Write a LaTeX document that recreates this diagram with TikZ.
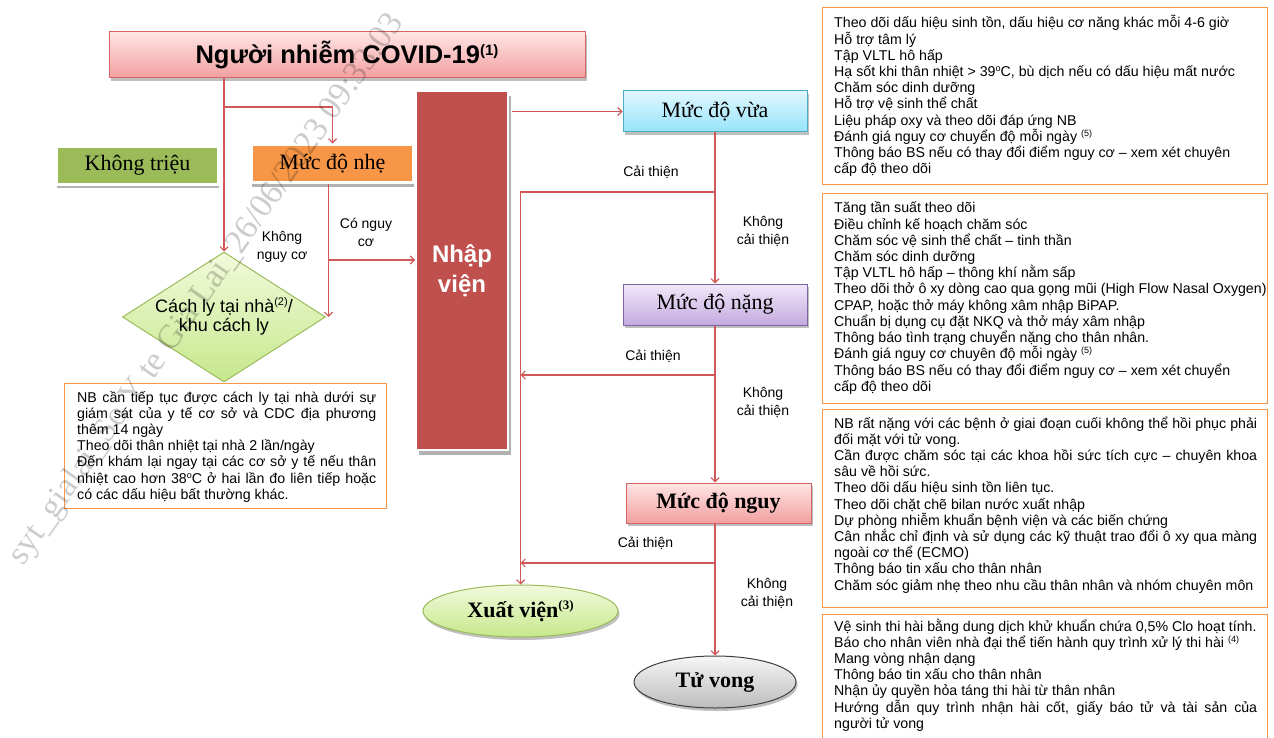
\documentclass[tikz,border=0pt]{standalone}
\usepackage{fontspec}
\setmainfont{Liberation Sans}
\newfontfamily\seriffont{Liberation Serif}
\usetikzlibrary{shapes.geometric,arrows.meta,shadows}

\definecolor{linkred}{RGB}{208,88,88}
\definecolor{boxorange}{RGB}{247,150,70}
\definecolor{pinktop}{RGB}{255,228,228}
\definecolor{pinkbot}{RGB}{243,160,160}
\definecolor{pinkedge}{RGB}{214,100,100}
\definecolor{leafgreen}{RGB}{155,187,89}
\definecolor{limetop}{RGB}{242,250,220}
\definecolor{limebot}{RGB}{198,232,140}
\definecolor{cyantop}{RGB}{225,247,255}
\definecolor{cyanbot}{RGB}{150,228,250}
\definecolor{cyanedge}{RGB}{75,172,198}
\definecolor{violettop}{RGB}{240,232,250}
\definecolor{violetbot}{RGB}{196,170,222}
\definecolor{violetedge}{RGB}{128,100,162}
\definecolor{greytop}{RGB}{246,246,246}
\definecolor{greybot}{RGB}{188,188,188}
\definecolor{brick}{RGB}{192,80,77}

% small raised text: raise, size, content
\newcommand{\supx}[3]{\raisebox{#1}{\fontsize{#2}{#2}\selectfont #3}}
% a block of stacked lines of a given width
\newcommand{\txtblock}[2]{\vtop{\hsize=#1\relax #2}}
\newcommand{\fl}[1]{\hbox to \hsize{#1}}
\newcommand{\pl}[1]{\hbox{#1}}

\tikzset{
  link/.style={draw=linkred, line width=1.1pt, -{Straight Barb[length=4pt,width=8pt]}},
  linkplain/.style={draw=linkred, line width=1.1pt},
  lbl/.style={font=\fontsize{14}{18}\selectfont, align=center, inner sep=0pt},
  infobox/.style={draw=boxorange, line width=1pt, fill=white, inner sep=0pt},
  infotext/.style={font=\fontsize{14.2}{16.2}\selectfont, inner sep=0pt, anchor=base west},
  softshadow/.style={drop shadow={shadow xshift=1.5pt, shadow yshift=-3pt, fill=black, opacity=0.25}},
  tagbox/.style={draw=white, line width=3pt, minimum width=162pt, minimum height=38pt, inner sep=0pt,
    font=\seriffont\fontsize{22}{26}\selectfont,
    drop shadow={shadow xshift=0pt, shadow yshift=-4pt, fill=black, opacity=0.3}},
  levelbox/.style={line width=1pt, minimum width=184pt, minimum height=41pt, inner sep=0pt,
    font=\seriffont\fontsize{22}{26}\selectfont, softshadow},
  outcome/.style={ellipse, line width=1pt, minimum height=52pt, inner sep=0pt, softshadow,
    font=\seriffont\bfseries\fontsize{22}{26}\selectfont},
}

\begin{document}
\begin{tikzpicture}[x=1pt,y=-1pt]
\clip (0,0) rectangle (1274,738);
\fill[white] (0,0) rectangle (1274,738);

% ---------- entry and triage ----------
\node[draw=pinkedge, line width=1pt, top color=pinktop, bottom color=pinkbot,
      minimum width=476pt, minimum height=46pt, inner sep=0pt, softshadow,
      font=\fontsize{25.5}{29}\selectfont\bfseries] (title) at (347,55)
      {Người nhiễm COVID-19\supx{8pt}{15}{(1)}};

\node[tagbox, fill=leafgreen] (asym) at (137.5,165.5) {Không triệu};
\node[tagbox, fill=boxorange] (mild) at (332.5,164) {Mức độ nhẹ};

\node[draw=white, line width=2pt, fill=brick, minimum width=92pt, minimum height=359pt,
      text=white, font=\fontsize{24}{30}\selectfont\bfseries, align=center,
      drop shadow={shadow xshift=3pt, shadow yshift=-5pt, fill=black, opacity=0.3}]
      (adm) at (462,270.5) {Nhập\\viện};

\node[diamond, draw=leafgreen, line width=1pt, top color=limetop, bottom color=limebot,
      minimum width=203pt, minimum height=130pt, inner sep=0pt] (home) at (224,317) {};
\node[font=\fontsize{18}{19}\selectfont, align=center, inner sep=0pt] (hometitle) at (224,316)
      {Cách ly tại nhà\supx{7pt}{11}{(2)}/\\khu cách ly};

\node[infobox, minimum width=322pt, minimum height=125pt] (homebox) at (225,445.5) {};
\node[infotext] (hometext) at (77,402) {\txtblock{299pt}{%
  \fl{NB cần tiếp tục được cách ly tại nhà dưới sự}
  \fl{giám sát của y tế cơ sở và CDC địa phương}
  \pl{thêm 14 ngày}
  \pl{Theo dõi thân nhiệt tại nhà 2 lần/ngày}
  \fl{Đến khám lại ngay tại các cơ sở y tế nếu thân}
  \fl{nhiệt cao hơn 38\supx{5pt}{9}{o}C ở hai lần đo liên tiếp hoặc}
  \pl{có các dấu hiệu bất thường khác.}}};

% ---------- hospital levels ----------
\node[levelbox, top color=cyantop, bottom color=cyanbot, draw=cyanedge] (mod) at (715,111.5) {Mức độ vừa};
\node[levelbox, top color=violettop, bottom color=violetbot, draw=violetedge] (sev) at (715,304.5) {Mức độ nặng};
\node[levelbox, minimum width=185pt, minimum height=40pt, top color=pinktop, bottom color=pinkbot,
      draw=pinkedge, font=\seriffont\bfseries\fontsize{22}{26}\selectfont] (crit) at (718.5,503) {Mức độ nguy};

\node[outcome, draw=leafgreen, top color=limetop, bottom color=limebot, minimum width=195pt]
      (disc) at (520.5,611) {Xuất viện\supx{8pt}{13}{(3)}};
\node[outcome, draw=black!75, top color=greytop, bottom color=greybot, minimum width=162pt]
      (death) at (715,682) {Tử vong};

% ---------- care notes ----------
\node[infobox, minimum width=445pt, minimum height=177pt] (boxA) at (1044.5,96.5) {};
\node[infotext] (txtA) at (834,28) {\txtblock{430pt}{%
  \pl{Theo dõi dấu hiệu sinh tồn, dấu hiệu cơ năng khác mỗi 4-6 giờ}
  \pl{Hỗ trợ tâm lý}
  \pl{Tập VLTL hô hấp}
  \pl{Hạ sốt khi thân nhiệt > 39\supx{5pt}{9}{o}C, bù dịch nếu có dấu hiệu mất nước}
  \pl{Chăm sóc dinh dưỡng}
  \pl{Hỗ trợ vệ sinh thể chất}
  \pl{Liệu pháp oxy và theo dõi đáp ứng NB}
  \pl{Đánh giá nguy cơ chuyển độ mỗi ngày \supx{5pt}{9}{(5)}}
  \pl{Thông báo BS nếu có thay đổi điểm nguy cơ – xem xét chuyên}
  \pl{cấp độ theo dõi}}};

\node[infobox, minimum width=445pt, minimum height=209pt] (boxB) at (1044.5,298.5) {};
\node[infotext] (txtB) at (834,213) {\txtblock{430pt}{%
  \pl{Tăng tần suất theo dõi}
  \pl{Điều chỉnh kế hoạch chăm sóc}
  \pl{Chăm sóc vệ sinh thể chất – tinh thần}
  \pl{Chăm sóc dinh dưỡng}
  \pl{Tập VLTL hô hấp – thông khí nằm sấp}
  \pl{Theo dõi thở ô xy dòng cao qua gọng mũi (High Flow Nasal Oxygen)}
  \pl{CPAP, hoặc thở máy không xâm nhập BiPAP.}
  \pl{Chuẩn bị dụng cụ đặt NKQ và thở máy xâm nhập}
  \pl{Thông báo tình trạng chuyển nặng cho thân nhân.}
  \pl{Đánh giá nguy cơ chuyên độ mỗi ngày \supx{5pt}{9}{(5)}}
  \pl{Thông báo BS nếu có thay đổi điểm nguy cơ – xem xét chuyển}
  \pl{cấp độ theo dõi}}};

\node[infobox, minimum width=445pt, minimum height=198pt] (boxC) at (1044.5,508) {};
\node[infotext] (txtC) at (834,428) {\txtblock{423pt}{%
  \fl{NB rất nặng với các bệnh ở giai đoạn cuối không thể hồi phục phải}
  \pl{đối mặt với tử vong.}
  \fl{Cần được chăm sóc tại các khoa hồi sức tích cực – chuyên khoa}
  \pl{sâu về hồi sức.}
  \pl{Theo dõi dấu hiệu sinh tồn liên tục.}
  \pl{Theo dõi chặt chẽ bilan nước xuất nhập}
  \pl{Dự phòng nhiễm khuẩn bệnh viện và các biến chứng}
  \fl{Cân nhắc chỉ định và sử dụng các kỹ thuật trao đổi ô xy qua màng}
  \pl{ngoài cơ thể (ECMO)}
  \pl{Thông báo tin xấu cho thân nhân}
  \pl{Chăm sóc giảm nhẹ theo nhu cầu thân nhân và nhóm chuyên môn}}};

\node[infobox, minimum width=445pt, minimum height=146pt] (boxD) at (1044.5,687) {};
\node[infotext] (txtD) at (834,631) {\txtblock{423pt}{%
  \pl{Vệ sinh thi hài bằng dung dịch khử khuẩn chứa 0,5\% Clo hoạt tính.}
  \pl{Báo cho nhân viên nhà đại thể tiến hành quy trình xử lý thi hài \supx{5pt}{9}{(4)}}
  \pl{Mang vòng nhận dạng}
  \pl{Thông báo tin xấu cho thân nhân}
  \pl{Nhận ủy quyền hỏa táng thi hài từ thân nhân}
  \fl{Hướng dẫn quy trình nhận hài cốt, giấy báo tử và tài sản của}
  \pl{người tử vong}}};

% ---------- connectors ----------
\coordinate (split) at (home.north |- 0,107);
\draw[link] (title.south -| home.north) -- (home.north);
\draw[link] (split) -| (mild.north);
\coordinate (mildout) at ([xshift=-4pt]mild.south);
\draw[link] (mildout) -- (mildout |- home.east);
\coordinate (riskfork) at (mildout |- 0,260);
\draw[link] (riskfork) -- (riskfork -| adm.west);

\draw[link] ([xshift=3pt]adm.east |- mod.west) -- (mod.west);
\draw[link] (mod.south) -- (sev.north);
\coordinate (imp1) at (mod.south |- 0,192);
\draw[link] (imp1) -| (disc.north);
\draw[link] (sev.south) -- (sev.south |- crit.north);
\coordinate (imp2) at (sev.south |- 0,375);
\draw[link] (imp2) -- (imp2 -| disc.north);
\draw[link] (sev.south |- crit.south) -- (death.north);
\coordinate (imp3) at (sev.south |- 0,563);
\draw[link] (imp3) -- (imp3 -| disc.north);

% ---------- connector labels ----------
\node[lbl] (lb1) at (651,172) {Cải thiện};
\node[lbl] (lb2) at (763,231) {Không\\cải thiện};
\node[lbl] (lb3) at (653,356) {Cải thiện};
\node[lbl] (lb4) at (763,402) {Không\\cải thiện};
\node[lbl] (lb5) at (645.5,543) {Cải thiện};
\node[lbl] (lb6) at (767,593) {Không\\cải thiện};
\node[lbl] (lb7) at (282,247) {Không\\nguy cơ};
\node[lbl] (lb8) at (366,232.5) {Có nguy\\cơ};

% ---------- stamp ----------
\node[rotate=55, inner sep=0pt, text=black, opacity=0.2,
      font=\seriffont\fontsize{34}{34}\selectfont] (stamp) at (207,290)
      {syt\_gialai\_So Y te Gia Lai\_26/06/2023 09:33:03};
\end{tikzpicture}
\end{document}
